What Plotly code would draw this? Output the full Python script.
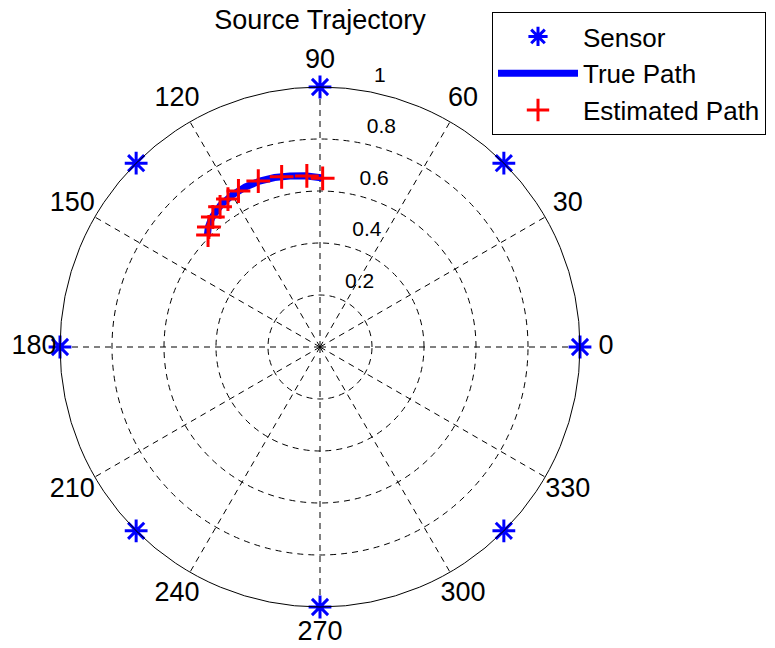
import plotly.graph_objects as go

# Sensor array: eight sensors on the unit circle
sensor_theta = [0, 45, 90, 135, 180, 225, 270, 315]
sensor_r = [1, 1, 1, 1, 1, 1, 1, 1]

# True source trajectory (polar: degrees, normalized radius)
true_theta = [89, 95, 100, 105, 110, 115, 120, 125, 130, 133, 135]
true_r = [0.650, 0.661, 0.668, 0.675, 0.679, 0.679, 0.675, 0.666, 0.648, 0.630, 0.612]

# Estimated trajectory points
est_theta = [89.1, 94.4, 102.7, 110.4, 117.6, 121.9, 125.5, 129.5, 132.8, 135.0]
est_r = [0.649, 0.660, 0.671, 0.681, 0.677, 0.670, 0.662, 0.648, 0.629, 0.609]

# Polar grid ticks and their labels
angle_ticks = list(range(0, 360, 30))
angle_labels = [str(a) for a in angle_ticks]
radial_ticks = [0.2, 0.4, 0.6, 0.8, 1]
radial_labels = ["0.2", "0.4", "0.6", "0.8", "1"]

FONT = "Liberation Sans, Arial, Helvetica, sans-serif"
FS = 27
R_MAX = 1.0
LABEL_R = 1.1 * R_MAX   # ring on which the angle labels are centred
NBSP = "\u00a0"

# Plot circle: centre (320, 347) px, rim radius 260 px
CX, CY, RAD = 320, 347, 260
W, H = 775, 648


def square_domain(radius_px):
    return dict(x=[(CX - radius_px) / W, (CX + radius_px) / W],
                y=[1 - (CY + radius_px) / H, 1 - (CY - radius_px) / H])


fig = go.Figure()

fig.add_trace(go.Scatterpolar(
    r=sensor_r, theta=sensor_theta, mode="markers", name="Sensor",
    marker=dict(symbol="asterisk", size=19, color="#0000ff",
                line=dict(color="#0000ff", width=3)),
    cliponaxis=False,
))
fig.add_trace(go.Scatterpolar(
    r=true_r, theta=true_theta, mode="lines", name="True Path",
    line=dict(color="#0000ff", width=7),
))
fig.add_trace(go.Scatterpolar(
    r=est_r, theta=est_theta, mode="markers", name="Estimated Path",
    marker=dict(symbol="cross-thin", size=17, color="#ff0000",
                line=dict(color="#ff0000", width=3)),
))

# Label layer: a second, invisible polar frame sharing the same centre and
# scale but extending to LABEL_R, so labels can sit outside the rim.
fig.add_trace(go.Scatterpolar(
    subplot="polar2",
    r=[LABEL_R] * len(angle_ticks), theta=angle_ticks,
    mode="text", text=angle_labels, textposition="middle center",
    textfont=dict(family=FONT, size=FS, color="black"),
    cliponaxis=False, showlegend=False, hoverinfo="skip",
))
fig.add_trace(go.Scatterpolar(
    subplot="polar2",
    r=[v + 0.01 for v in radial_ticks], theta=[82] * len(radial_ticks),
    mode="text", text=[NBSP * 3 + t for t in radial_labels],
    textposition="top right",
    textfont=dict(family=FONT, size=21, color="black"),
    cliponaxis=False, showlegend=False, hoverinfo="skip",
))

fig.update_layout(
    width=W, height=H,
    margin=dict(l=0, r=0, t=0, b=0),
    paper_bgcolor="white",
    font=dict(family=FONT, size=FS, color="black"),
    title=dict(text="Source Trajectory", x=CX / W, xanchor="center",
               y=1 - 20 / H, yanchor="middle",
               font=dict(family=FONT, size=FS, color="black")),
    polar=dict(
        domain=square_domain(RAD),
        bgcolor="white",
        angularaxis=dict(
            direction="counterclockwise", rotation=0,
            tickmode="array", tickvals=angle_ticks,
            showline=True, linecolor="black", linewidth=1,
            showgrid=True, gridcolor="black", gridwidth=1, griddash="6px,5px",
            ticks="", showticklabels=False,
        ),
        radialaxis=dict(
            range=[0, R_MAX], tickmode="array", tickvals=radial_ticks,
            showline=False, ticks="", showticklabels=False,
            showgrid=True, gridcolor="black", gridwidth=1, griddash="6px,5px",
        ),
    ),
    polar2=dict(
        domain=square_domain(RAD * LABEL_R / R_MAX),
        bgcolor="rgba(0,0,0,0)",
        angularaxis=dict(
            direction="counterclockwise", rotation=0,
            showline=False, showgrid=False, ticks="", showticklabels=False,
        ),
        radialaxis=dict(
            range=[0, LABEL_R], showline=False, showgrid=False,
            ticks="", showticklabels=False,
        ),
    ),
    showlegend=True,
    legend=dict(
        x=492 / W, y=1 - 12 / H, xanchor="left", yanchor="top",
        bgcolor="white", bordercolor="black", borderwidth=1,
        font=dict(family=FONT, size=26),
        itemwidth=80, tracegroupgap=0,
    ),
)

fig.write_html("out.html")
